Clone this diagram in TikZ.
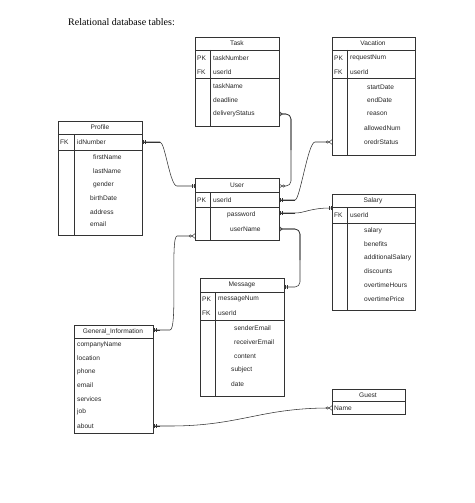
\documentclass[tikz,border=0pt]{standalone}
\usepackage{fontspec}
\setmainfont{Liberation Sans}
\newfontfamily\ttl{Liberation Serif}
\usetikzlibrary{arrows.meta}
\begin{document}
\begin{tikzpicture}[x=1pt,y=-1pt,
  box/.style={draw=black!80,line width=0.6pt},
  ln/.style={draw=black!80,line width=0.5pt},
  t/.style={font=\fontsize{6.6}{7}\selectfont,text=black!85,inner sep=0pt},
  tl/.style={t,anchor=west},
  conn/.style={draw=black!80,line width=0.55pt,rounded corners=5pt},
  oo/.style={-{Circle[open,length=3pt,width=3pt,sep=0pt,line width=0.5pt] Straight Barb[reversed,length=2.5pt,width=4.5pt,line width=0.5pt]}},
  mm/.style={-{Bar[width=4pt,line width=0.5pt,sep=1.2pt]Bar[width=4pt,line width=0.5pt,sep=1pt]}},
  crow/.style={-{Straight Barb[reversed,length=2.5pt,width=4.5pt,line width=0.5pt]Bar[width=4pt,line width=0.5pt,sep=0pt]}}]
\useasboundingbox (0,0) rectangle (474,503);
\fill[white] (0,0) rectangle (474,503);
\node[anchor=west,font=\ttl\fontsize{10}{12}\selectfont,inner sep=0pt] (title) at (68,22) {Relational database tables:};
% Task
\draw[box] (195,37) rectangle (279,126);
\draw[ln] (195,50)--(279,50) (195,78)--(279,78) (210,50)--(210,126);
\node[t] (task) at (237,43.5) {Task};
\node[tl] at (197,58) {PK}; \node[tl] at (213,58) {taskNumber};
\node[tl] at (197,72) {FK}; \node[tl] at (213,72) {userId};
\node[tl] at (213,86) {taskName}; \node[tl] at (213,100) {deadline};
\node[tl] (tds) at (213,114) {deliveryStatus};
\coordinate (taskR) at (279,114);
% Vacation
\draw[box] (332,37) rectangle (415,155);
\draw[ln] (332,50)--(415,50) (332,78)--(415,78) (347,50)--(347,155);
\node[t] (vac) at (373,43.5) {Vacation};
\node[tl] at (334,58) {PK}; \node[tl] at (350,58) {requestNum};
\node[tl] at (334,72) {FK}; \node[tl] at (350,72) {userId};
\node[tl] at (367,87) {startDate}; \node[tl] at (367,100) {endDate};
\node[tl] at (367,114) {reason}; \node[tl] at (364,128) {allowedNum};
\node[tl] at (364,142) {oredrStatus};
\coordinate (vacL) at (332,142);
% Profile
\draw[box] (58,121) rectangle (142,235);
\draw[ln] (58,134)--(142,134) (58,150)--(142,150) (74,134)--(74,235);
\node[t] (prof) at (100,127.5) {Profile};
\node[tl] at (60,142) {FK}; \node[tl] at (77,142) {idNumber};
\node[tl] at (93,157) {firstName}; \node[tl] at (93,171) {lastName};
\node[tl] at (93,185) {gender}; \node[tl] at (90,198) {birthDate};
\node[tl] at (90,212) {address}; \node[tl] at (90,224) {email};
\coordinate (profR) at (142,142);
% User
\draw[box] (195,178) rectangle (279,240);
\draw[ln] (195,192)--(279,192) (195,207)--(279,207) (210,192)--(210,240);
\node[t] (user) at (237,185) {User};
\node[tl] at (197,200) {PK}; \node[tl] at (213,200) {userId};
\node[tl] at (227,215) {password}; \node[tl] at (230,229) {userName};
\coordinate (userTL) at (195,186); \coordinate (userTR) at (279,186);
\coordinate (userR1) at (279,200); \coordinate (userR2) at (279,213);
\coordinate (userR3) at (279,229); \coordinate (userBL) at (195,236);
% Salary
\draw[box] (332,194) rectangle (415,310);
\draw[ln] (332,207)--(415,207) (332,223)--(415,223) (347,207)--(347,310);
\node[t] (sal) at (373,200.5) {Salary};
\node[tl] at (334,215) {FK}; \node[tl] at (350,215) {userId};
\node[tl] at (364,231) {salary}; \node[tl] at (364,244) {benefits};
\node[tl] at (364,258) {additionalSalary}; \node[tl] at (364,271) {discounts};
\node[tl] at (364,285) {overtimeHours}; \node[tl] at (364,299) {overtimePrice};
\coordinate (salL) at (332,208);
% Message
\draw[box] (200,278) rectangle (284,396);
\draw[ln] (200,292)--(284,292) (200,320)--(284,320) (215,292)--(215,396);
\node[t] (msg) at (242,285) {Message};
\node[tl] at (202,299) {PK}; \node[tl] at (218,299) {messageNum};
\node[tl] at (202,313) {FK}; \node[tl] at (218,313) {userId};
\node[tl] at (234,328) {senderEmail}; \node[tl] at (234,342) {receiverEmail};
\node[tl] at (234,356) {content}; \node[tl] at (231,370) {subject};
\node[tl] at (231,384) {date};
\coordinate (msgR) at (284,287);
% General_Information
\draw[box] (74,325) rectangle (153,433);
\draw[ln] (74,338)--(153,338);
\node[t] (gen) at (113,331.5) {General\_Information};
\foreach \s/\y in {companyName/345,location/358,phone/372,email/385,services/399,job/412}
  \node[tl] at (77,\y) {\s};
\node[tl] at (77,426) {about};
\coordinate (genR) at (153,330); \coordinate (genA) at (153,426);
% Guest
\draw[box] (332,389) rectangle (405,414);
\draw[ln] (332,401)--(405,401);
\node[t] (guest) at (368,395) {Guest};
\node[tl] at (334,408) {Name};
\coordinate (guestL) at (332,408);
% connectors
\draw[conn,mm] (profR) -- (155,142) .. controls (165,142) and (170,186) .. (182,186) -- (userTL);
\draw[conn,mm] (160,142) -- (profR);
\draw[conn,oo] (taskR) -- (291,114) -- (291,186) -- (userTR);
\draw[conn,crow] (291,150) -- (291,114) -- (taskR);
\draw[conn,oo] (userR1) -- (290,200) .. controls (300,200) and (308,142) .. (320,142) -- (vacL);
\draw[conn,mm] (295,200) -- (userR1);
\draw[conn,mm] (userR2) -- (290,213) .. controls (305,213) and (310,208) .. (salL);
\draw[conn,mm] (295,213) -- (userR2);
\draw[conn,mm] (userR3) -- (300,229) -- (300,287) -- (msgR);
\draw[conn,crow] (300,260) -- (300,229) -- (userR3);
\draw[conn,oo] (genR) -- (165,330) .. controls (178,330) and (170,236) .. (182,236) -- (userBL);
\draw[conn,mm] (160,330) -- (genR);
\draw[conn,oo] (genA) -- (165,426) .. controls (240,426) and (260,408) .. (guestL);
\draw[conn,mm] (160,426) -- (genA);
\end{tikzpicture}
\end{document}
